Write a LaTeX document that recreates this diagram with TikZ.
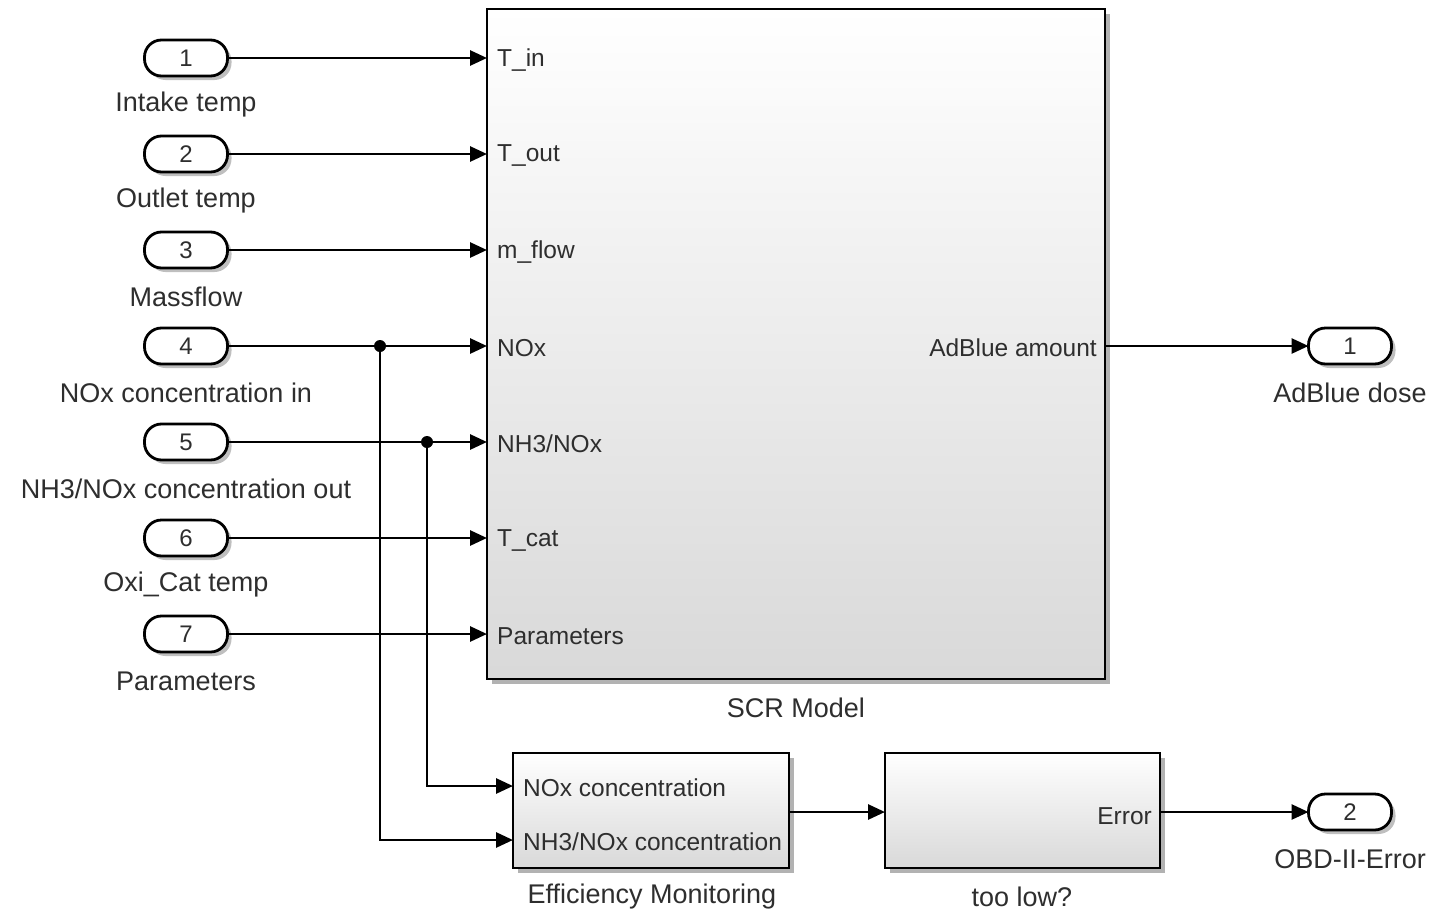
\documentclass[tikz,border=0pt]{standalone}
\usepackage{fontspec}
\setmainfont{Liberation Sans}
\usetikzlibrary{arrows.meta,shadows}
\definecolor{txt}{HTML}{2E2E2E}
\tikzset{
  wire/.style={line width=2.8pt, draw=black},
  arr/.style={wire, -{Triangle[length=17pt,width=15pt]}},
  portbox/.style={draw=black, line width=2.8pt, fill=white, rounded corners=17pt,
    minimum width=83pt, minimum height=36pt, inner sep=0pt, outer sep=0pt,
    font=\fontsize{24}{28}\selectfont, text=txt,
    drop shadow={shadow xshift=4pt, shadow yshift=-4pt, fill=black, opacity=0.25}},
  blockbox/.style={draw=black, line width=2.8pt, inner sep=0pt, outer sep=0pt,
    top color=white, bottom color=black!15, anchor=north west,
    drop shadow={shadow xshift=5pt, shadow yshift=-5pt, fill=black, opacity=0.3}},
  lbl/.style={font=\fontsize{27}{31}\selectfont, text=txt, inner sep=0pt},
  ilbl/.style={font=\fontsize{24.5}{29}\selectfont, text=txt, inner sep=0pt},
  plbl/.style={ilbl, anchor=west},
  dot/.style={circle, fill=black, inner sep=0pt, minimum size=12pt},
}
\begin{document}
\begin{tikzpicture}[x=1pt,y=-1pt]
\useasboundingbox (0,0) rectangle (1432,910);
\fill[white] (0,0) rectangle (1432,910);

% blocks
\node[blockbox, minimum width=618pt, minimum height=670pt] (scr) at (487,9) {};
\node[lbl] (scrl) at (796,708) {SCR Model};
\node[blockbox, minimum width=276pt, minimum height=115pt] (em) at (513,753) {};
\node[lbl] (eml) at (652,897) {Efficiency Monitoring};
\node[blockbox, minimum width=275pt, minimum height=115pt] (tl) at (885,753) {};
\node[lbl] (tll) at (1022,897) {too low?};

% in ports
\foreach \i/\y/\t in {1/58/{Intake temp}, 2/154/{Outlet temp}, 3/250/{Massflow},
  4/346/{NOx concentration in}, 5/442/{NH3/NOx concentration out},
  6/538/{Oxi\_Cat temp}, 7/634/{Parameters}}{
  \node[portbox] (in\i) at (186,\y) {\i};
  \node[lbl] (in\i l) at (186,\y+47) {\t};
}

% out ports
\node[portbox] (out1) at (1350,346) {1};
\node[lbl] (out1l) at (1350,393) {AdBlue dose};
\node[portbox] (out2) at (1350,812) {2};
\node[lbl] (out2l) at (1350,859) {OBD-II-Error};

% SCR port labels
\foreach \y/\t in {58/{T\_in}, 154/{T\_out}, 250/{m\_flow}, 346/{NOx}, 442/{NH3/NOx}, 538/{T\_cat}, 634/{Parameters}}{
  \node[plbl] at (497,\y+2) {\t};
}
\node[ilbl, anchor=east] (adb) at (1097,348) {AdBlue amount};

% EM port labels
\node[plbl] at (523,788) {NOx concentration};
\node[plbl] at (523,842) {NH3/NOx concentration};
\node[ilbl, anchor=east] at (1152,816) {Error};

% wires
\foreach \i in {1,...,7}{
  \draw[arr] (in\i.east) -- (scr.west |- in\i);
}
\draw[arr] (scr.east |- out1) -- (out1.west);

\coordinate (b4) at (380,346);
\coordinate (b5) at (427,442);
\draw[arr] (b4) |- (em.west |- 0,840);
\draw[arr] (b5) |- (em.west |- 0,786);
\node[dot] at (b4) {};
\node[dot] at (b5) {};

\draw[arr] (em.east |- 0,812) -- (tl.west |- 0,812);
\draw[arr] (tl.east |- out2) -- (out2.west);
\end{tikzpicture}
\end{document}
